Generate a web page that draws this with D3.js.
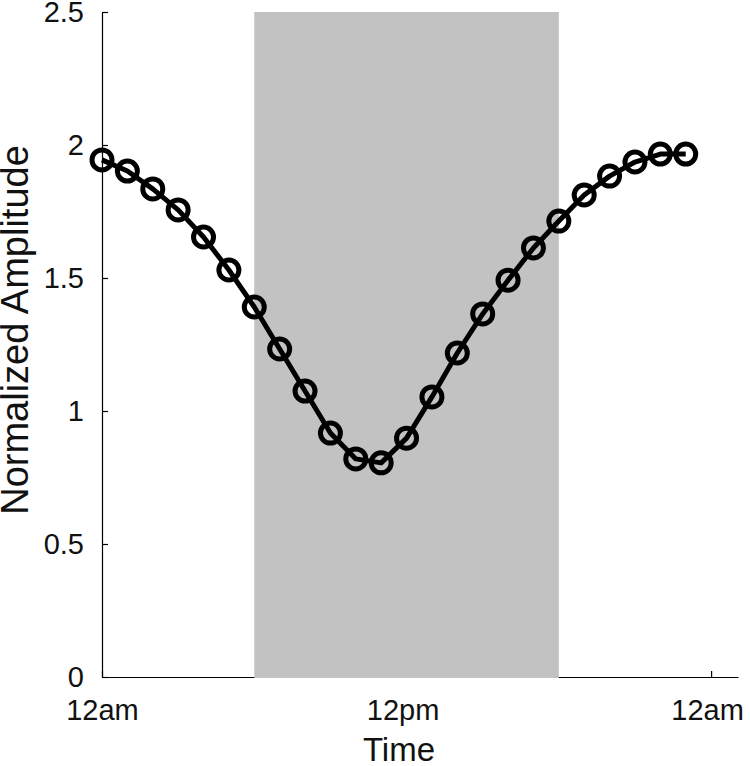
<!DOCTYPE html>
<html><head><meta charset="utf-8">
<script src="https://cdn.jsdelivr.net/npm/d3@7"></script>
<style>html,body{margin:0;padding:0;background:#fff;}svg{display:block;font-family:"Liberation Sans",Arial,sans-serif;}</style>
</head><body><svg id="c" width="750" height="766"></svg>
<script>
const hours = [0,1,2,3,4,5,6,7,8,9,10,11,12,13,14,15,16,17,18,19,20,21,22,23];
const amplitude = [1.944,1.902,1.835,1.756,1.654,1.530,1.391,1.233,1.075,0.917,0.820,0.805,0.898,1.053,1.218,1.365,1.492,1.613,1.714,1.812,1.883,1.936,1.966,1.966];
const shadeRange = [6, 18];
const xTickValues = [0, 12, 24];
const xTickLabels = ["12am", "12pm", "12am"];
const yTickValues = [0, 0.5, 1, 1.5, 2, 2.5];
const yTickLabels = ["0", "0.5", "1", "1.5", "2", "2.5"];

(function(){
const svg = d3.select("#c");
const mL = 102, mR = 738, mT = 12, mB = 677;
const x = d3.scaleLinear().domain([0, 25.06]).range([mL, mR]);
const y = d3.scaleLinear().domain([0, 2.5]).range([mB, mT]);

const yAxis = d3.axisLeft(y).tickValues(yTickValues).tickFormat((d,i)=>yTickLabels[i]).tickSizeInner(-6).tickSizeOuter(0).tickPadding(18);
const gy = svg.append("g").attr("transform",`translate(${mL},0)`).call(yAxis);
const xAxis = d3.axisBottom(x).tickValues(xTickValues).tickFormat((d,i)=>xTickLabels[i]).tickSizeInner(-6).tickSizeOuter(0).tickPadding(22);
const gx = svg.append("g").attr("transform",`translate(0,${mB})`).call(xAxis);
[gx, gy].forEach(g=>{
  g.attr("font-size", null).attr("font-family", null);
  g.select(".domain").attr("stroke","#000").attr("stroke-width",1.2);
  g.selectAll(".tick line").attr("stroke","#000").attr("stroke-width",1.2);
  g.selectAll(".tick text").attr("fill","#111").style("font-size","29px").style("font-family","'Liberation Sans',Arial,sans-serif");
});
gx.selectAll(".tick text").attr("dx", (d,i)=> i===0 ? 0 : -4);

svg.append("rect")
  .attr("x", x(shadeRange[0])).attr("width", x(shadeRange[1]) - x(shadeRange[0]))
  .attr("y", y(2.5)).attr("height", y(0) - y(2.5) + 1)
  .attr("fill", "#c2c2c2");

const line = d3.line().x((d,i)=>x(hours[i])).y(d=>y(d));
svg.append("path").datum(amplitude).attr("d", line)
  .attr("fill","none").attr("stroke","#000").attr("stroke-width",5).attr("stroke-linejoin","round");

svg.selectAll("circle.m").data(amplitude).enter().append("circle")
  .attr("class","m").attr("cx",(d,i)=>x(hours[i])).attr("cy",d=>y(d)).attr("r",10)
  .attr("fill","none").attr("stroke","#000").attr("stroke-width",5);

svg.append("text").attr("x", 399).attr("y", 761).attr("text-anchor","middle")
  .style("font-size","33px").attr("fill","#111").text("Time");
svg.append("text").attr("transform",`translate(28,330) rotate(-90)`).attr("text-anchor","middle")
  .style("font-size","38px").attr("fill","#111").text("Normalized Amplitude");
})();
</script></body></html>
